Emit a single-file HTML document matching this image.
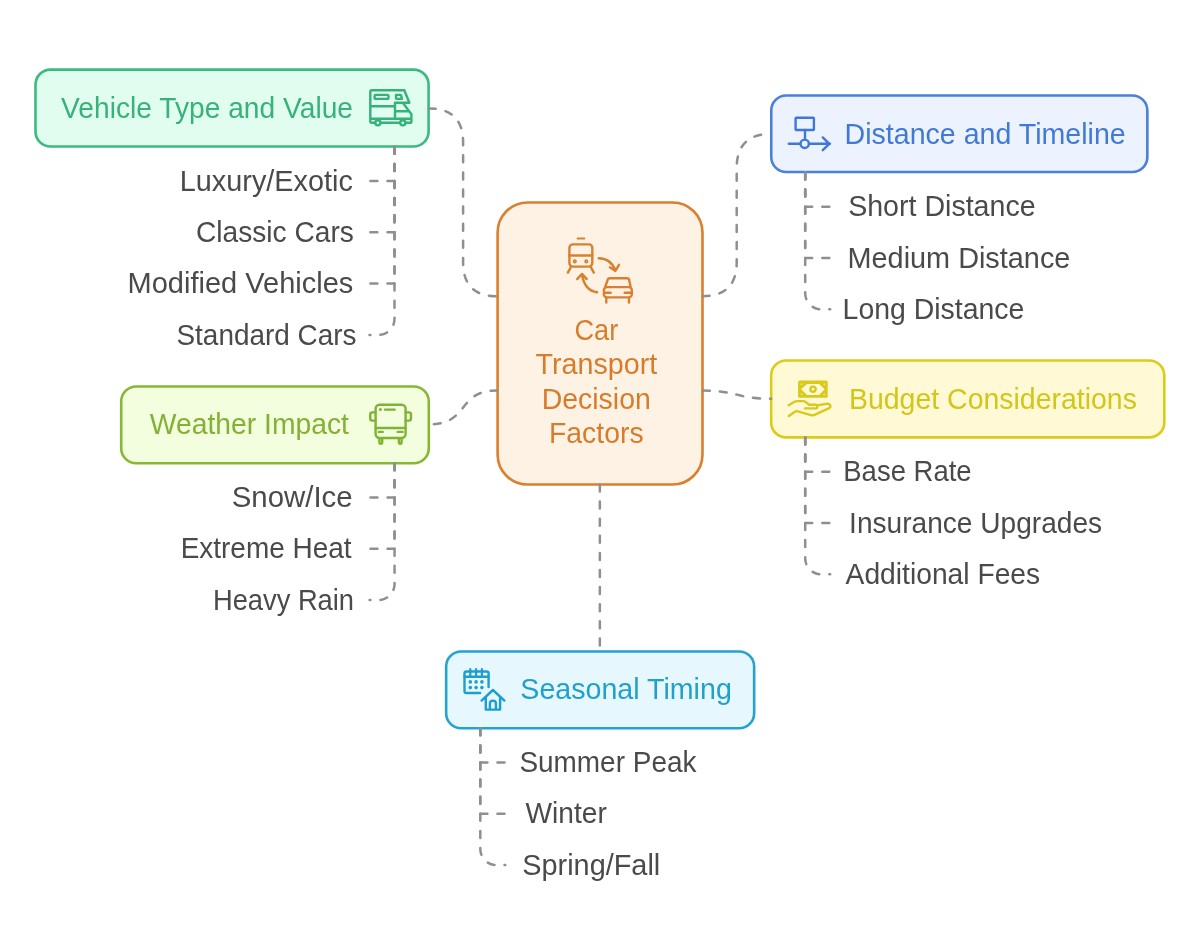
<!DOCTYPE html>
<html><head><meta charset="utf-8">
<style>
html,body{margin:0;padding:0;background:#fff;width:1200px;height:952px;overflow:hidden}
svg{display:block;will-change:transform}
text{font-family:"Liberation Sans",sans-serif;font-size:29.5px}
.ln{fill:none;stroke:#8f8f8f;stroke-width:2.5;stroke-dasharray:7.0 10.1;stroke-linecap:round;stroke-linejoin:round}
.ic{fill:none;stroke-width:2.4;stroke-linecap:round;stroke-linejoin:round}
</style></head>
<body>
<svg width="1200" height="952" viewBox="0 0 1200 952">
<rect x="35.5" y="69.6" width="393.1" height="76.95" rx="15" fill="#e1fdef" stroke="#3cba7f" stroke-width="2.6"/>
<rect x="771.25" y="95.5" width="376.1" height="76.55" rx="15" fill="#ecf3fe" stroke="#4a80d8" stroke-width="2.6"/>
<rect x="497.6" y="202.5" width="204.9" height="282.0" rx="30" fill="#fef2e5" stroke="#dc7f2c" stroke-width="2.6"/>
<rect x="121.2" y="386.45" width="307.6" height="76.85" rx="15" fill="#f3fede" stroke="#88b736" stroke-width="2.6"/>
<rect x="771.15" y="360.5" width="393.15" height="76.9" rx="15" fill="#fff9d6" stroke="#dccb17" stroke-width="2.6"/>
<rect x="446.15" y="651.5" width="308.0" height="76.75" rx="15" fill="#e6f8fe" stroke="#24a3d0" stroke-width="2.6"/>
<path class="ln" d="M428.6 108.4 C451.11 108.4 463.1 119.49 463.1 142.00 V262.30 C463.1 285.08 474.32 296.3 497.10 296.3 H497.6"/>
<path class="ln" d="M702.5 296.2 C725.41 296.2 736.7 284.91 736.7 262.00 V168.10 C736.7 145.12 748.27 133.8 771.25 133.8"/>
<path class="ln" d="M497.6 390.4 C456 390.4 470.4 424.4 428.8 424.4"/>
<path class="ln" d="M702.5 390.5 C736.8 390.5 736.8 398.8 771.15 398.8"/>
<path class="ln" d="M599.85 484.5 V651.5"/>
<path class="ln" d="M394.5 146.8 V181.0 H370.00"/>
<path class="ln" d="M394.5 146.8 V232.3 H370.00"/>
<path class="ln" d="M394.5 146.8 V283.6 H370.00"/>
<path class="ln" d="M394.5 146.8 V318.90 A16 16 0 0 1 378.50 334.9 H369.53"/>
<path class="ln" d="M805.2 172.5 V206.7 H829.70"/>
<path class="ln" d="M805.2 172.5 V258.0 H829.70"/>
<path class="ln" d="M805.2 172.5 V293.30 A16 16 0 0 0 821.20 309.3 H830.17"/>
<path class="ln" d="M394.55 463.2 V497.4 H370.05"/>
<path class="ln" d="M394.55 463.2 V548.7 H370.05"/>
<path class="ln" d="M394.55 463.2 V584.00 A16 16 0 0 1 378.55 600.0 H369.58"/>
<path class="ln" d="M805.2 437.5 V471.7 H829.70"/>
<path class="ln" d="M805.2 437.5 V523.0 H829.70"/>
<path class="ln" d="M805.2 437.5 V558.30 A16 16 0 0 0 821.20 574.3 H830.17"/>
<path class="ln" d="M480.3 728.3 V762.4 H504.80"/>
<path class="ln" d="M480.3 728.3 V813.7 H504.80"/>
<path class="ln" d="M480.3 728.3 V849.00 A16 16 0 0 0 496.30 865.0 H505.27"/>
<!-- ICON: RV (green) -->
<g class="ic" stroke="#34b378">
<path d="M404.3 90.3 H371.8 Q370.3 90.3 370.3 91.8 V121.3 Q370.3 122.8 371.8 122.8 H374.5 M381.3 122.8 H399.4 M406.2 122.8 H410 Q411.4 122.8 411.4 121.4 V114.2 L403 103 M404.3 90.3 L409.4 102.7 H395 V118.8 M370.3 106.2 H395 M395 111.2 H408 M370.3 118.8 H411.4"/>
<rect x="374.6" y="94.9" width="13.9" height="4" rx="1"/>
<path d="M396 94.9 H400.3 Q400.9 94.9 401.1 95.5 L402 98.9 H396.6 Q396 98.9 396 98.3 Z"/>
<circle cx="377.9" cy="122.8" r="2.6" fill="#e1fdef"/>
<circle cx="402.8" cy="122.8" r="2.6" fill="#e1fdef"/>
</g>

<!-- ICON: Distance (blue) -->
<g class="ic" stroke="#3f78d6">
<rect x="795.6" y="117.8" width="18.3" height="12.2" rx="0.6"/>
<path d="M805 130 V139.6 M788.8 143.8 H800.5 M808.9 143.8 H830 M822.8 137.4 L829.3 143.8 L822.8 150.2"/>
<circle cx="804.7" cy="143.8" r="4.2"/>
</g>

<!-- ICON: Train/Car (orange) -->
<g class="ic" stroke="#d98030">
<path d="M577.6 238.6 H584.3" stroke-width="2"/>
<rect x="569.4" y="244.4" width="22.9" height="22.2" rx="3.5"/>
<path d="M569.4 255.5 H592.3 M570.6 267.6 L567.9 272.6 M591.1 267.6 L593.8 272.6"/>
<circle cx="574.8" cy="261.4" r="1.2" stroke-width="1.7"/>
<circle cx="586.3" cy="261.4" r="1.2" stroke-width="1.7"/>
<path d="M598.7 258.3 Q611 258.5 615.3 270.4 M609.9 267.3 L615.4 270.9 L619 264.8"/>
<path d="M597.1 292.3 Q584.5 290.5 582 274.5 M577.2 279.1 L582 273.9 L586.7 279.1"/>
<path d="M605.1 287.1 L607.8 279.5 Q608.3 278.3 609.5 278.3 H627.4 Q628.6 278.3 629.1 279.5 L630.6 287.1"/>
<rect x="603.9" y="287.1" width="27.9" height="10.3" rx="3"/>
<path d="M605.1 292.7 H610.7 M624.6 292.7 H630.6 M606.3 298 V302.5 M629 298 V302.5"/>
</g>

<!-- ICON: Bus (lime) -->
<g class="ic" stroke="#80b234">
<rect x="375.6" y="404.8" width="30" height="33.2" rx="4"/>
<path d="M375.6 428 H405.6 M378.8 431.9 H382.7 M397.7 431.9 H402.6 M385 409.6 H394.7"/>
<path d="M375.6 412.35 H372.3 Q370.25 412.35 370.25 414.4 V418.6 Q370.25 420.65 372.3 420.65 H375.6"/>
<path d="M405.6 412.35 H408.9 Q410.95 412.35 410.95 414.4 V418.6 Q410.95 420.65 408.9 420.65 H405.6"/>
<path d="M379.4 438.5 V442.3 Q379.4 443.8 380.8 443.8 Q382.2 443.8 382.2 442.3 V438.5"/>
<path d="M398.9 438.5 V442.3 Q398.9 443.8 400.2 443.8 Q401.6 443.8 401.6 442.3 V438.5"/>
</g>
<circle cx="380.4" cy="409.6" r="1.5" fill="#80b234"/>

<!-- ICON: Budget (yellow) -->
<g>
<rect x="798.1" y="380.6" width="29.6" height="17.1" rx="1.5" fill="#d9c91b"/>
<path d="M801.1 389.3 L807.1 383.9 H819.1 L824.7 389.3 L819.1 394.9 H807.1 Z" fill="#fff9d8"/>
<circle cx="813" cy="389.2" r="3.8" fill="#d9c91b"/>
<circle cx="813" cy="389.2" r="1.4" fill="#fff9d8"/>
<circle cx="801.6" cy="384.2" r="0.9" fill="#f2e98a"/>
<circle cx="824.3" cy="384.2" r="0.9" fill="#f2e98a"/>
<circle cx="801.6" cy="394.3" r="0.9" fill="#f2e98a"/>
<circle cx="824.3" cy="394.3" r="0.9" fill="#f2e98a"/>
<path class="ic" stroke="#d9c91b" d="M788.6 405.2 L794.5 401.8 Q795.8 401.1 797.3 401.1 H803.3 Q804.5 401.1 805.5 401.9 L809.2 404.8 H816 Q817.3 404.8 817.3 406.6 Q817.3 408.4 816 408.4 H805 M816.8 405.4 L827 403.8 Q829.2 403.6 830.2 405.3 Q831 406.8 829.7 407.9 L814.5 414.8 Q812.8 415.5 811 415.1 L797.8 411.3 Q796.3 410.9 795 411.7 L788.8 416.1"/>
</g>

<!-- ICON: Seasonal (cyan) -->
<g class="ic" stroke="#1d9ed0">
<path d="M480.1 693 H466.6 Q464.5 693 464.5 690.9 V673.6 Q464.5 671.5 466.6 671.5 H486.5 Q488.6 671.5 488.6 673.6 V687.1"/>
<path d="M464.5 676.7 H488.6"/>
<path d="M470.3 669 V676 M476.1 669 V676 M481.9 669 V676" stroke-width="2.2"/>
<path d="M481.6 700.6 L492.9 690 L504.4 700.6 M485.8 697 V709.6 H500.1 V697 M489.9 709.6 V703.5 Q489.9 700.6 492.9 700.6 Q495.9 700.6 495.9 703.5 V709.6"/>
</g>
<g fill="#1d9ed0">
<circle cx="470.3" cy="681.9" r="1.8"/><circle cx="476.1" cy="681.9" r="1.8"/><circle cx="481.9" cy="681.9" r="1.8"/>
<circle cx="470.3" cy="687.6" r="1.8"/><circle cx="476.1" cy="687.6" r="1.8"/><circle cx="481.9" cy="687.6" r="1.8"/>
</g>
<text x="61.06" y="117.70" textLength="292.00" lengthAdjust="spacingAndGlyphs" fill="#38b27b">Vehicle Type and Value</text>
<text x="179.81" y="190.70" textLength="173.00" lengthAdjust="spacingAndGlyphs" fill="#4a4a4a">Luxury/Exotic</text>
<text x="196.07" y="242.00" textLength="157.74" lengthAdjust="spacingAndGlyphs" fill="#4a4a4a">Classic Cars</text>
<text x="127.54" y="293.30" textLength="225.82" lengthAdjust="spacingAndGlyphs" fill="#4a4a4a">Modified Vehicles</text>
<text x="176.48" y="344.60" textLength="180.07" lengthAdjust="spacingAndGlyphs" fill="#4a4a4a">Standard Cars</text>
<text x="844.58" y="143.80" textLength="281.12" lengthAdjust="spacingAndGlyphs" fill="#417ad6">Distance and Timeline</text>
<text x="848.15" y="216.40" textLength="187.45" lengthAdjust="spacingAndGlyphs" fill="#4a4a4a">Short Distance</text>
<text x="847.56" y="267.70" textLength="222.80" lengthAdjust="spacingAndGlyphs" fill="#4a4a4a">Medium Distance</text>
<text x="842.59" y="319.00" textLength="181.72" lengthAdjust="spacingAndGlyphs" fill="#4a4a4a">Long Distance</text>
<text x="574.52" y="340.30" textLength="43.73" lengthAdjust="spacingAndGlyphs" fill="#d67d2c">Car</text>
<text x="535.47" y="374.40" textLength="121.78" lengthAdjust="spacingAndGlyphs" fill="#d67d2c">Transport</text>
<text x="541.69" y="408.60" textLength="109.14" lengthAdjust="spacingAndGlyphs" fill="#d67d2c">Decision</text>
<text x="549.00" y="442.90" textLength="94.57" lengthAdjust="spacingAndGlyphs" fill="#d67d2c">Factors</text>
<text x="149.76" y="434.40" textLength="199.17" lengthAdjust="spacingAndGlyphs" fill="#83b133">Weather Impact</text>
<text x="231.76" y="507.10" textLength="120.88" lengthAdjust="spacingAndGlyphs" fill="#4a4a4a">Snow/Ice</text>
<text x="180.63" y="558.40" textLength="171.00" lengthAdjust="spacingAndGlyphs" fill="#4a4a4a">Extreme Heat</text>
<text x="212.94" y="609.70" textLength="141.10" lengthAdjust="spacingAndGlyphs" fill="#4a4a4a">Heavy Rain</text>
<text x="848.99" y="408.70" textLength="287.96" lengthAdjust="spacingAndGlyphs" fill="#d4c519">Budget Considerations</text>
<text x="843.27" y="481.40" textLength="128.40" lengthAdjust="spacingAndGlyphs" fill="#4a4a4a">Base Rate</text>
<text x="849.08" y="532.70" textLength="253.04" lengthAdjust="spacingAndGlyphs" fill="#4a4a4a">Insurance Upgrades</text>
<text x="845.60" y="584.00" textLength="194.56" lengthAdjust="spacingAndGlyphs" fill="#4a4a4a">Additional Fees</text>
<text x="520.30" y="699.40" textLength="211.51" lengthAdjust="spacingAndGlyphs" fill="#21a0ce">Seasonal Timing</text>
<text x="519.38" y="772.10" textLength="177.07" lengthAdjust="spacingAndGlyphs" fill="#4a4a4a">Summer Peak</text>
<text x="525.56" y="823.40" textLength="81.20" lengthAdjust="spacingAndGlyphs" fill="#4a4a4a">Winter</text>
<text x="522.23" y="874.70" textLength="138.04" lengthAdjust="spacingAndGlyphs" fill="#4a4a4a">Spring/Fall</text>
</svg>
</body></html>
